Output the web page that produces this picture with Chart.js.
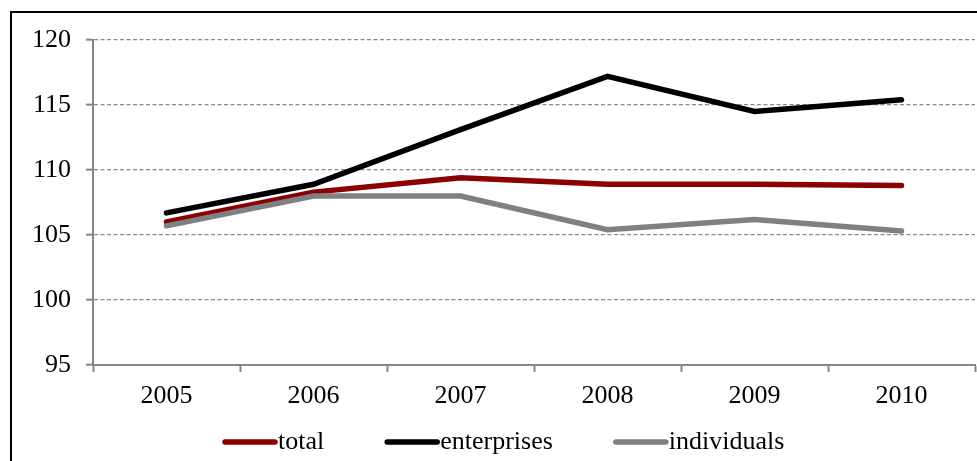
<!DOCTYPE html>
<html>
<head>
<meta charset="utf-8">
<script src="https://cdn.jsdelivr.net/npm/chart.js"></script>
<style>
  body { margin: 0; background: #fff; overflow: hidden; }
  #wrap { position: relative; width: 977px; height: 461px; }
  #frame { position: absolute; left: 10px; top: 11px; width: 1000px; height: 500px; border: 2px solid #000; }
  #chart { position: absolute; left: 0; top: 0; }
</style>
</head>
<body>
<div id="wrap">
  <div id="frame"></div>
  <canvas id="chart" width="977" height="461"></canvas>
</div>
<script>
// index values
const years = ["2005", "2006", "2007", "2008", "2009", "2010"];
const totalIdx = [106.0, 108.3, 109.4, 108.9, 108.9, 108.8];
const enterprisesIdx = [106.7, 108.9, 113.1, 117.2, 114.5, 115.4];
const individualsIdx = [105.7, 108.0, 108.0, 105.4, 106.2, 105.3];
const seriesNames = ["total", "enterprises", "individuals"];
const seriesColors = ["#8b0000", "#000000", "#808080"];
const yMin = 95, yMax = 120, yStep = 5;

const serif = '"Liberation Serif", "Times New Roman", serif';
const axisGrey = "#868686";

// legend drawn by hand: line sample right up against the label
const lineLegend = {
  id: "lineLegend",
  afterDraw(chart) {
    const ctx = chart.ctx;
    let x = 222;
    const y = 442;
    ctx.save();
    ctx.font = "26px " + serif;
    ctx.textBaseline = "middle";
    chart.data.datasets.forEach(ds => {
      ctx.strokeStyle = ds.borderColor;
      ctx.lineWidth = 5.5;
      ctx.lineCap = "round";
      ctx.beginPath();
      ctx.moveTo(x + 3, y);
      ctx.lineTo(x + 53, y);
      ctx.stroke();
      ctx.fillStyle = "#000";
      ctx.fillText(ds.label, x + 56, y);
      x += 56 + ctx.measureText(ds.label).width + 60;
    });
    ctx.restore();
  }
};

const allSeries = [totalIdx, enterprisesIdx, individualsIdx];

new Chart(document.getElementById("chart"), {
  type: "line",
  data: {
    labels: years,
    datasets: allSeries.map((vals, i) => ({
      label: seriesNames[i],
      data: vals,
      borderColor: seriesColors[i],
      backgroundColor: seriesColors[i],
      borderWidth: 5.5,
      borderCapStyle: "round",
      borderJoinStyle: "miter",
      pointRadius: 0,
      tension: 0,
      fill: false,
      order: 3 - i
    }))
  },
  options: {
    responsive: false,
    animation: false,
    layout: { padding: { top: 40, right: 2, left: 0, bottom: 0 } },
    plugins: {
      legend: { display: false },
      tooltip: { enabled: false }
    },
    scales: {
      x: {
        offset: true,
        grid: {
          offset: true,
          drawOnChartArea: false,
          tickLength: 7,
          tickColor: axisGrey,
          tickWidth: 2
        },
        border: { color: axisGrey, width: 2 },
        ticks: { color: "#000", font: { family: serif, size: 26 }, padding: 9, maxRotation: 0 },
        afterFit(scale) { scale.height = 96; }
      },
      y: {
        min: yMin,
        max: yMax,
        ticks: { stepSize: yStep, color: "#000", font: { family: serif, size: 26 }, padding: 15 },
        grid: {
          color: "#8a8a8a",
          lineWidth: 1.3,
          tickLength: 7,
          tickColor: axisGrey,
          tickWidth: 2,
          tickBorderDash: []
        },
        border: { color: axisGrey, width: 2, dash: [4, 2.5] },
        afterFit(scale) { scale.width = 93; }
      }
    }
  },
  plugins: [lineLegend]
});
</script>
</body>
</html>
